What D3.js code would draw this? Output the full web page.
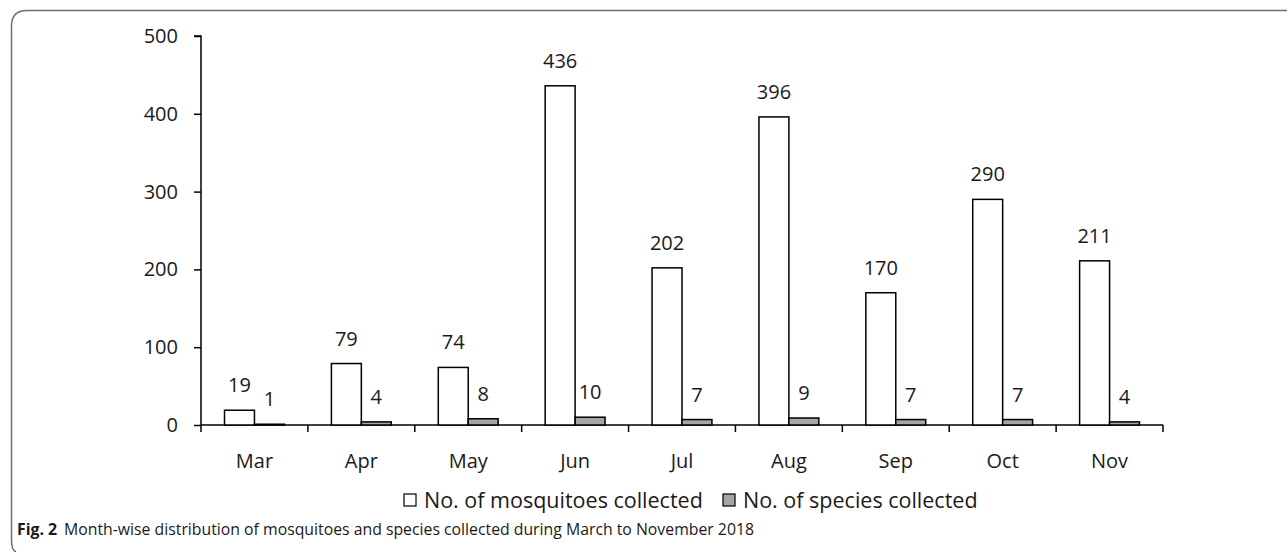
<!DOCTYPE html>
<html>
<head>
<meta charset="utf-8">
<script src="https://cdn.jsdelivr.net/npm/d3@7"></script>
<style>
  body { margin: 0; background: #fff; }
  svg { display: block; font-family: "Open Sans", "Noto Sans", sans-serif; }
</style>
</head>
<body>
<svg id="chart" width="1287" height="552"></svg>
<script>
// values
const months = ['Mar', 'Apr', 'May', 'Jun', 'Jul', 'Aug', 'Sep', 'Oct', 'Nov']
const mosquitoes = [19, 79, 74, 436, 202, 396, 170, 290, 211]
const species = [1, 4, 8, 10, 7, 9, 7, 7, 4]
const yTicks = [0, 100, 200, 300, 400, 500]
const seriesNames = ['No. of mosquitoes collected', 'No. of species collected']
const seriesFill = ['#ffffff', '#a6a6a6']

const svg = d3.select('#chart')
const plotLeft = 201
const plotRight = 1163
const plotTop = 36
const plotBottom = 425
const font = '"Open Sans", "Noto Sans", sans-serif'

// frame: top and left edges with rounded corners
svg.append('path')
  .attr('d', `M1287,10.5 H27 Q11.5,10.5 11.5,26 V540 Q11.5,550 16,552`)
  .attr('fill', 'none')
  .attr('stroke', '#6e6e6e')
  .attr('stroke-width', 1.5)

const x0 = d3.scaleBand().domain(months).range([plotLeft, plotRight]).paddingInner(0.44).paddingOuter(0.22)
const x1 = d3.scaleBand().domain([0, 1]).range([0, x0.bandwidth()])
const y = d3.scaleLinear().domain([0, 500]).range([plotBottom, plotTop])

// y axis
const yAxis = svg.append('g')
  .attr('transform', `translate(${plotLeft},0)`)
  .call(d3.axisLeft(y).tickValues(yTicks).tickSize(7).tickPadding(16))
  .attr('font-family', font)
  .attr('font-size', 20)
yAxis.select('.domain').attr('d', `M-7,${plotTop}H0V${plotBottom}`).attr('stroke-width', 1.5)
yAxis.selectAll('.tick line').attr('stroke-width', 1.5)
yAxis.selectAll('text').attr('fill', '#1a1a1a')

// x axis: ticks sit on the category boundaries
const step = (plotRight - plotLeft) / months.length
const xAxis = svg.append('g').attr('transform', `translate(0,${plotBottom})`)
xAxis.append('line')
  .attr('x1', plotLeft).attr('x2', plotRight)
  .attr('stroke', '#000').attr('stroke-width', 1.5)
xAxis.selectAll('.xt')
  .data(d3.range(months.length + 1))
  .enter().append('line')
  .attr('x1', (i) => plotLeft + i * step).attr('x2', (i) => plotLeft + i * step)
  .attr('y1', 0).attr('y2', 7)
  .attr('stroke', '#000').attr('stroke-width', 1.5)
xAxis.selectAll('.xl')
  .data(months)
  .enter().append('text')
  .attr('x', (d) => x0(d) + x0.bandwidth() / 2)
  .attr('y', 43)
  .attr('text-anchor', 'middle')
  .attr('font-size', 20)
  .attr('fill', '#1a1a1a')
  .text((d) => d)

// bars
const rows = months.map((m, i) => ({ month: m, values: [mosquitoes[i], species[i]] }))
const groups = svg.append('g').selectAll('g')
  .data(rows)
  .enter().append('g')
  .attr('transform', (d) => `translate(${x0(d.month)},0)`)

groups.selectAll('rect')
  .data((d) => d.values.map((v, k) => ({ k, v })))
  .enter().append('rect')
  .attr('x', (d) => x1(d.k))
  .attr('y', (d) => y(d.v))
  .attr('width', x1.bandwidth())
  .attr('height', (d) => plotBottom - y(d.v))
  .attr('fill', (d) => seriesFill[d.k])
  .attr('stroke', '#000')
  .attr('stroke-width', 1.5)

groups.selectAll('text')
  .data((d) => d.values.map((v, k) => ({ k, v })))
  .enter().append('text')
  .attr('x', (d) => x1(d.k) + x1.bandwidth() / 2)
  .attr('y', (d) => y(d.v) - 18)
  .attr('text-anchor', 'middle')
  .attr('font-size', 20)
  .attr('fill', '#1a1a1a')
  .text((d) => d.v)

// legend
const legendX = [404, 723]
const legend = svg.append('g')
seriesNames.forEach((name, k) => {
  legend.append('rect')
    .attr('x', legendX[k]).attr('y', 494)
    .attr('width', 12).attr('height', 12)
    .attr('fill', seriesFill[k])
    .attr('stroke', '#000').attr('stroke-width', 1.2)
  legend.append('text')
    .attr('x', legendX[k] + 20).attr('y', 508)
    .attr('font-size', 21.5)
    .attr('fill', '#1a1a1a')
    .text(name)
})

// caption
const caption = svg.append('text')
  .attr('x', 17).attr('y', 535)
  .attr('font-size', 15.8)
  .attr('fill', '#1a1a1a')
caption.append('tspan').attr('font-weight', 'bold').text('Fig. 2')
caption.append('tspan').attr('dx', 7).text('Month-wise distribution of mosquitoes and species collected during March to November 2018')
</script>
</body>
</html>
